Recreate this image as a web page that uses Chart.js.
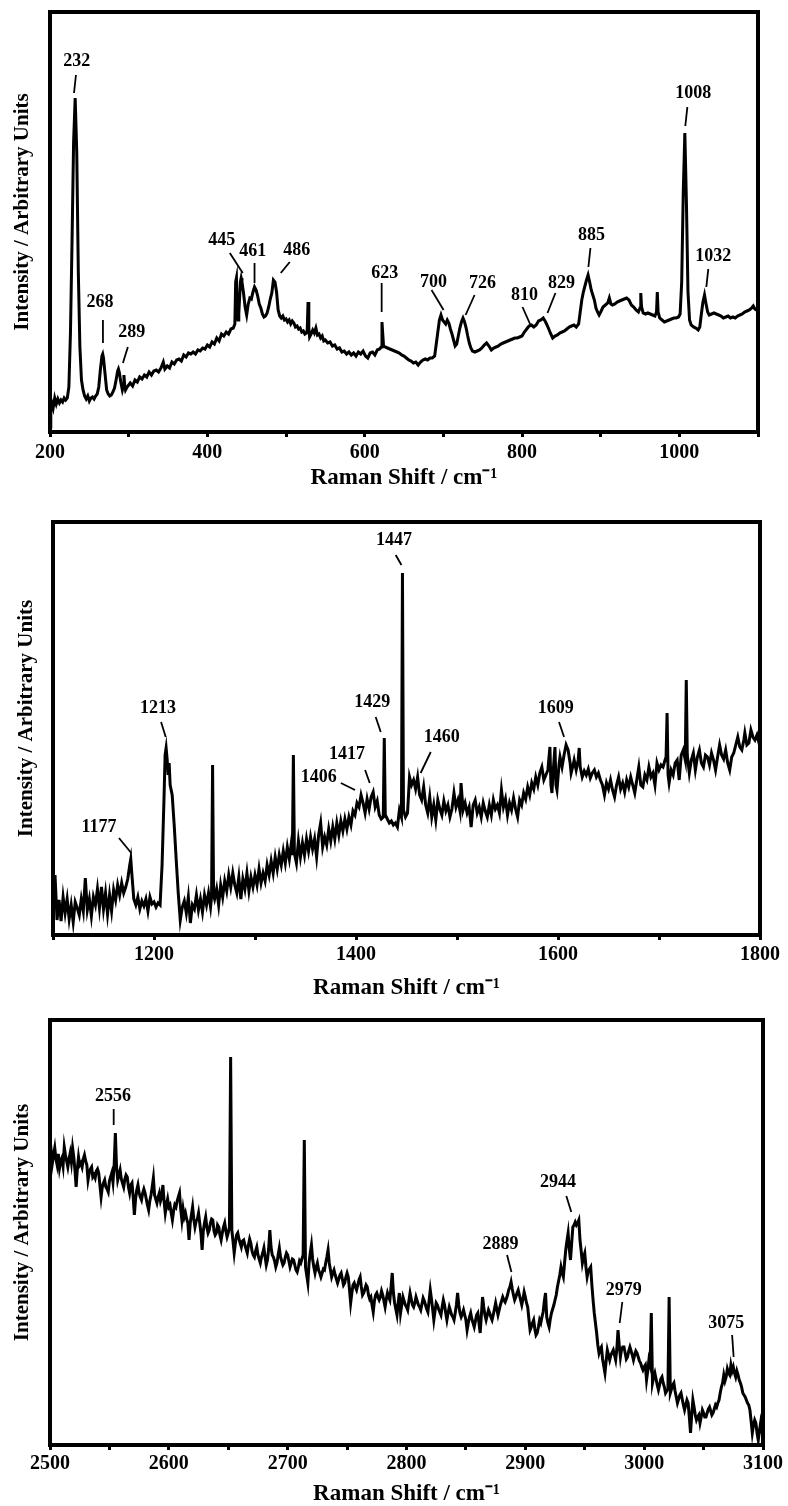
<!DOCTYPE html>
<html><head><meta charset="utf-8">
<script src="https://cdn.jsdelivr.net/npm/chart.js@4.4.1/dist/chart.umd.min.js"></script>
<style>
html,body{margin:0;padding:0;background:#fff;}
body{width:788px;height:1506px;position:relative;overflow:hidden;}
canvas{position:absolute;left:0;}
</style></head><body>
<canvas id="c1" width="788" height="500" style="top:0px"></canvas>
<canvas id="c2" width="788" height="505" style="top:500px"></canvas>
<canvas id="c3" width="788" height="501" style="top:1005px"></canvas>
<script>
// ---------- DATA (Raman shift cm-1, intensity arbitrary units) ----------
const spectrum1 = [[200,5],[201,22],[202,30],[204,24],[206,34],[208,28],[210,33],[212,29],[214,32],[216,30],[218,34],[220,32],[222,34],[224,45],[226,99],[228,190],[230,290],[232,334],[234,280],[236,160],[238,85],[240,52],[242,42],[244,36],[246,33],[248,36],[250,31],[252,34],[254,35],[256,33],[258,36],[260,38],[262,45],[264,62],[266,76],[267,78],[268,74],[270,58],[272,42],[274,38],[276,36],[278,37],[280,40],[282,44],[284,52],[286,61],[287,63],[288,60],[290,50],[292,42],[293,45],[294,57],[295,46],[296,42],[298,45],[300,47],[302,49],[305,46],[308,52],[311,50],[314,55],[317,53],[320,57],[323,55],[326,60],[329,57],[332,61],[335,62],[338,60],[341,64],[344,70],[346,63],[349,66],[352,64],[355,70],[358,68],[361,72],[364,73],[367,71],[370,77],[373,75],[376,79],[379,78],[382,80],[385,78],[388,82],[391,81],[394,84],[397,83],[400,87],[403,85],[406,90],[409,88],[412,94],[415,91],[418,98],[421,96],[424,100],[427,98],[430,103],[433,104],[435,108],[436,150],[437,154],[438,120],[439,112],[440,118],[442,150],[443,154],[444,150],[446,139],[448,125],[450,117],[452,128],[454,134],[456,133],[458,140],[460,145],[462,142],[464,136],[466,128],[468,124],[470,118],[472,115],[474,116],[476,119],[478,125],[480,133],[482,139],[484,152],[486,150],[488,140],[490,122],[492,116],[494,114],[496,116],[498,112],[500,113],[502,110],[504,112],[506,108],[508,111],[510,109],[512,105],[514,106],[516,103],[518,104],[520,100],[522,101],[524,98],[526,99],[527,102],[528,130],[529,104],[530,95],[532,98],[534,102],[536,99],[538,104],[540,97],[542,98],[544,94],[546,96],[548,91],[550,92],[553,89],[556,90],[559,86],[562,87],[565,83],[568,84],[571,80],[574,81],[577,78],[580,80],[583,77],[586,79],[589,76],[592,80],[595,78],[598,81],[601,76],[604,74],[607,79],[610,80],[613,77],[616,82],[619,83],[621,85],[622,110],[623,98],[624,86],[626,85],[629,84],[632,83],[635,82],[638,81],[641,80],[644,79],[647,77],[650,76],[653,74],[656,72],[659,71],[662,69],[665,70],[668,67],[671,70],[674,72],[677,73],[680,72],[683,74],[686,74],[689,76],[691,88],[693,100],[695,112],[697,117],[699,112],[701,110],[703,108],[705,112],[707,109],[709,103],[711,98],[713,92],[715,86],[717,88],[719,96],[721,104],[723,110],[725,114],[727,110],[729,104],[731,96],[733,89],[735,84],[737,81],[740,80],[743,81],[746,82],[749,84],[752,87],[755,89],[758,86],[761,82],[764,84],[767,85],[770,86],[773,88],[776,89],[779,90],[782,91],[785,92],[788,93],[791,94],[794,94],[797,95],[800,96],[803,100],[806,103],[809,106],[812,107],[815,105],[818,107],[821,111],[824,112],[827,114],[830,110],[833,105],[836,99],[839,94],[842,96],[845,97],[848,99],[851,100],[854,101],[857,103],[860,105],[863,106],[866,107],[869,105],[872,108],[874,120],[876,132],[878,140],[880,146],[882,152],[884,157],[886,150],[888,142],[890,137],[892,132],[894,124],[896,120],[898,117],[900,120],[903,125],[906,127],[909,129],[911,134],[913,128],[915,127],[918,128],[921,130],[924,131],[927,132],[930,133],[933,134],[936,132],[939,127],[942,125],[945,122],[948,120],[950,124],[951,139],[952,125],[954,119],[957,118],[960,119],[963,118],[966,117],[969,116],[971,120],[972,140],[973,120],[975,114],[978,112],[981,110],[984,111],[987,112],[990,113],[993,114],[996,114],[999,115],[1001,118],[1003,150],[1005,240],[1007,299],[1009,230],[1011,140],[1013,112],[1015,107],[1018,105],[1021,104],[1024,102],[1026,105],[1028,118],[1030,130],[1032,137],[1034,128],[1036,120],[1038,117],[1041,118],[1044,119],[1047,118],[1050,117],[1053,116],[1056,114],[1059,115],[1062,116],[1065,114],[1068,115],[1071,114],[1074,116],[1077,117],[1080,118],[1083,120],[1086,121],[1089,122],[1092,124],[1094,126],[1096,123],[1098,122],[1100,124]];

const spectrum2 = [[1100,40],[1101,30],[1102,60],[1104,15],[1106,35],[1108,14],[1110,38],[1112,22],[1114,36],[1116,16],[1118,30],[1120,13],[1122,33],[1124,27],[1126,20],[1128,36],[1130,24],[1132,57],[1134,25],[1136,36],[1138,19],[1140,38],[1142,30],[1144,46],[1146,27],[1148,48],[1150,26],[1152,42],[1154,21],[1156,40],[1158,24],[1160,45],[1162,35],[1164,50],[1166,40],[1168,52],[1170,42],[1172,48],[1174,56],[1176,70],[1177,76],[1178,62],[1180,36],[1182,30],[1184,38],[1186,26],[1188,34],[1190,29],[1192,36],[1194,24],[1196,38],[1198,31],[1200,33],[1202,28],[1204,32],[1206,30],[1208,70],[1210,140],[1211,180],[1212,187],[1213,176],[1214,160],[1215,172],[1216,150],[1218,140],[1220,110],[1222,75],[1224,42],[1226,15],[1228,28],[1230,34],[1232,22],[1234,38],[1236,12],[1238,30],[1240,26],[1242,40],[1244,25],[1246,36],[1248,23],[1250,40],[1252,30],[1254,42],[1256,28],[1257,38],[1258,170],[1259,40],[1260,36],[1262,46],[1264,30],[1266,50],[1268,38],[1270,54],[1272,44],[1274,60],[1276,48],[1278,62],[1280,50],[1282,42],[1284,58],[1286,36],[1288,56],[1290,46],[1292,62],[1294,44],[1296,58],[1298,48],[1300,60],[1302,50],[1304,66],[1306,52],[1308,62],[1310,54],[1312,70],[1314,60],[1316,74],[1318,62],[1320,78],[1322,66],[1324,80],[1326,70],[1328,84],[1330,72],[1332,88],[1334,76],[1336,92],[1337,80],[1338,180],[1339,82],[1341,72],[1343,94],[1345,78],[1347,92],[1349,80],[1351,96],[1353,84],[1355,98],[1357,86],[1359,96],[1361,78],[1363,100],[1365,112],[1367,88],[1369,98],[1371,90],[1373,106],[1375,94],[1377,108],[1379,96],[1381,112],[1383,100],[1385,114],[1387,104],[1389,116],[1391,106],[1393,118],[1395,110],[1397,124],[1399,120],[1401,132],[1403,128],[1405,140],[1407,132],[1409,122],[1411,136],[1413,126],[1415,138],[1417,143],[1419,128],[1421,134],[1423,120],[1425,116],[1427,118],[1428,197],[1429,120],[1431,116],[1433,112],[1435,114],[1437,110],[1439,112],[1441,108],[1443,125],[1445,118],[1446,362],[1447,125],[1449,118],[1451,122],[1453,158],[1455,150],[1457,155],[1459,146],[1461,158],[1463,140],[1465,135],[1467,148],[1469,130],[1471,122],[1473,138],[1475,118],[1477,130],[1479,115],[1481,135],[1483,126],[1485,120],[1487,134],[1489,124],[1491,130],[1493,118],[1495,126],[1497,142],[1499,128],[1501,135],[1503,124],[1504,152],[1506,125],[1508,132],[1510,122],[1512,128],[1514,108],[1516,130],[1518,135],[1520,122],[1522,128],[1524,118],[1526,132],[1528,124],[1530,118],[1532,130],[1534,120],[1536,135],[1538,126],[1540,130],[1542,122],[1544,145],[1546,128],[1548,136],[1550,120],[1552,132],[1554,125],[1556,137],[1558,126],[1560,118],[1562,135],[1564,130],[1566,142],[1568,136],[1570,148],[1572,140],[1574,152],[1576,146],[1578,158],[1580,150],[1582,162],[1584,168],[1586,155],[1588,160],[1590,165],[1592,188],[1593,150],[1594,142],[1595,160],[1597,188],[1598,150],[1599,145],[1601,170],[1602,178],[1604,168],[1606,180],[1608,190],[1610,185],[1612,172],[1613,162],[1615,170],[1616,175],[1618,165],[1620,175],[1621,187],[1622,168],[1624,158],[1626,164],[1628,160],[1630,166],[1632,157],[1634,162],[1636,165],[1638,158],[1640,162],[1642,155],[1644,150],[1646,140],[1648,152],[1650,146],[1652,155],[1654,145],[1656,138],[1658,150],[1660,158],[1662,146],[1664,152],[1666,143],[1668,155],[1670,148],[1672,158],[1674,150],[1676,142],[1678,155],[1680,168],[1682,150],[1684,148],[1686,160],[1688,155],[1690,168],[1692,158],[1694,162],[1696,150],[1698,172],[1700,165],[1702,170],[1704,168],[1706,175],[1707,178],[1708,222],[1709,160],[1710,152],[1712,165],[1714,160],[1716,172],[1718,175],[1720,155],[1722,180],[1724,185],[1726,175],[1727,255],[1728,180],[1730,162],[1732,175],[1734,182],[1736,165],[1738,178],[1740,185],[1742,172],[1744,168],[1746,180],[1748,178],[1750,170],[1752,182],[1754,175],[1756,165],[1758,178],[1760,190],[1762,180],[1764,176],[1766,185],[1768,172],[1770,165],[1772,178],[1774,182],[1776,190],[1778,198],[1780,188],[1782,185],[1784,195],[1785,202],[1787,190],[1789,192],[1791,205],[1793,198],[1795,195],[1797,200],[1799,192],[1800,195]];

const spectrum3 = [[2500,288],[2501,294],[2502,282],[2503,290],[2504,297],[2505,286],[2506,280],[2507,291],[2508,277],[2509,284],[2510,287],[2511,279],[2512,298],[2513,290],[2514,284],[2515,278],[2516,286],[2517,292],[2518,283],[2519,297],[2520,288],[2521,275],[2522,258],[2523,276],[2524,288],[2525,280],[2526,282],[2527,278],[2528,286],[2529,290],[2530,284],[2531,280],[2532,265],[2533,272],[2534,276],[2535,278],[2536,268],[2537,270],[2538,267],[2539,274],[2540,276],[2541,272],[2542,260],[2543,248],[2544,258],[2545,262],[2546,265],[2547,258],[2548,256],[2549,253],[2550,264],[2551,268],[2552,272],[2553,263],[2554,280],[2555,312],[2556,278],[2557,265],[2558,270],[2559,275],[2560,266],[2561,262],[2562,258],[2563,266],[2564,270],[2565,268],[2566,258],[2567,252],[2568,260],[2569,262],[2570,248],[2571,230],[2572,246],[2573,255],[2574,260],[2575,252],[2576,248],[2577,245],[2578,252],[2579,256],[2580,252],[2581,246],[2582,240],[2583,235],[2584,244],[2585,250],[2586,258],[2587,267],[2588,250],[2589,246],[2590,242],[2591,248],[2592,252],[2593,244],[2594,248],[2595,260],[2596,244],[2597,232],[2598,240],[2599,246],[2600,238],[2601,240],[2602,232],[2603,225],[2604,234],[2605,240],[2606,238],[2607,244],[2608,248],[2609,252],[2610,236],[2611,225],[2612,236],[2613,228],[2614,232],[2615,226],[2616,222],[2617,205],[2618,222],[2619,230],[2620,238],[2621,226],[2622,218],[2623,224],[2624,226],[2625,232],[2626,222],[2627,212],[2628,195],[2629,214],[2630,222],[2631,228],[2632,218],[2633,212],[2634,215],[2635,222],[2636,226],[2637,225],[2638,214],[2639,210],[2640,212],[2641,220],[2642,218],[2643,210],[2644,205],[2645,212],[2646,218],[2647,222],[2648,214],[2649,208],[2650,212],[2651,218],[2652,388],[2653,215],[2654,204],[2655,192],[2656,202],[2657,210],[2658,212],[2659,206],[2660,202],[2661,198],[2662,204],[2663,205],[2664,200],[2665,196],[2666,192],[2667,200],[2668,206],[2669,202],[2670,194],[2671,190],[2672,188],[2673,194],[2674,198],[2675,190],[2676,186],[2677,182],[2678,188],[2679,192],[2680,197],[2681,188],[2682,180],[2683,185],[2684,196],[2685,215],[2686,198],[2687,190],[2688,188],[2689,184],[2690,178],[2691,182],[2692,190],[2693,197],[2694,188],[2695,184],[2696,180],[2697,182],[2698,188],[2699,192],[2700,190],[2701,184],[2702,178],[2703,182],[2704,186],[2705,185],[2706,180],[2707,175],[2708,173],[2709,178],[2710,184],[2711,182],[2712,186],[2713,190],[2714,305],[2715,178],[2716,170],[2717,162],[2718,182],[2719,192],[2720,200],[2721,186],[2722,178],[2723,172],[2724,178],[2725,182],[2726,175],[2727,172],[2728,168],[2729,172],[2730,176],[2731,175],[2732,182],[2733,188],[2734,195],[2735,182],[2736,175],[2737,168],[2738,172],[2739,175],[2740,170],[2741,166],[2742,162],[2743,166],[2744,170],[2745,172],[2746,166],[2747,160],[2748,162],[2749,168],[2750,172],[2751,168],[2752,156],[2753,142],[2754,152],[2755,160],[2756,162],[2757,158],[2758,155],[2759,160],[2760,165],[2761,168],[2762,158],[2763,150],[2764,152],[2765,156],[2766,160],[2767,158],[2768,150],[2769,146],[2770,148],[2771,140],[2772,133],[2773,144],[2774,150],[2775,152],[2776,148],[2777,145],[2778,148],[2779,154],[2780,150],[2781,144],[2782,138],[2783,146],[2784,152],[2785,148],[2786,145],[2787,158],[2788,172],[2789,152],[2790,142],[2791,136],[2792,130],[2793,142],[2794,152],[2795,132],[2796,140],[2797,148],[2798,144],[2799,140],[2800,138],[2801,135],[2802,144],[2803,152],[2804,146],[2805,140],[2806,138],[2807,142],[2808,148],[2809,144],[2810,140],[2811,138],[2812,135],[2813,141],[2814,147],[2815,144],[2816,140],[2817,136],[2818,133],[2819,144],[2820,155],[2821,146],[2822,136],[2823,125],[2824,134],[2825,142],[2826,140],[2827,136],[2828,133],[2829,130],[2830,138],[2831,145],[2832,140],[2833,132],[2834,125],[2835,132],[2836,138],[2837,134],[2838,130],[2839,128],[2840,125],[2841,132],[2842,140],[2843,152],[2844,140],[2845,132],[2846,128],[2847,131],[2848,135],[2849,130],[2850,125],[2851,115],[2852,122],[2853,128],[2854,132],[2855,126],[2856,122],[2857,118],[2858,124],[2859,130],[2860,132],[2861,122],[2862,112],[2863,130],[2864,148],[2865,138],[2866,130],[2867,125],[2868,130],[2869,135],[2870,132],[2871,128],[2872,125],[2873,130],[2874,136],[2875,142],[2876,136],[2877,130],[2878,135],[2879,140],[2880,144],[2881,148],[2882,145],[2883,143],[2884,146],[2885,150],[2886,155],[2887,158],[2888,163],[2889,156],[2890,150],[2891,145],[2892,148],[2893,152],[2894,155],[2895,150],[2896,145],[2897,140],[2898,146],[2899,153],[2900,148],[2901,142],[2902,138],[2903,126],[2904,115],[2905,118],[2906,122],[2907,125],[2908,116],[2909,110],[2910,112],[2911,118],[2912,125],[2913,122],[2914,128],[2915,133],[2916,144],[2917,152],[2918,128],[2919,122],[2920,118],[2921,126],[2922,132],[2923,136],[2924,140],[2925,145],[2926,150],[2927,158],[2928,164],[2929,170],[2930,178],[2931,172],[2932,168],[2933,182],[2934,195],[2935,204],[2936,212],[2937,196],[2938,185],[2939,202],[2940,218],[2941,220],[2942,223],[2943,220],[2944,222],[2945,225],[2946,205],[2947,194],[2948,182],[2949,188],[2950,192],[2951,178],[2952,168],[2953,174],[2955,178],[2956,160],[2957,145],[2958,132],[2960,112],[2961,100],[2962,92],[2963,96],[2964,98],[2965,86],[2967,72],[2968,84],[2969,95],[2970,90],[2971,85],[2972,90],[2974,95],[2975,90],[2976,85],[2977,96],[2978,115],[2979,100],[2980,88],[2981,96],[2982,98],[2983,98],[2984,92],[2985,86],[2986,88],[2987,94],[2988,98],[2989,94],[2990,90],[2991,85],[2992,90],[2993,94],[2994,92],[2995,88],[2996,84],[2997,82],[2998,78],[2999,75],[3000,78],[3001,80],[3002,65],[3003,74],[3004,85],[3005,80],[3006,132],[3007,62],[3008,68],[3009,72],[3010,66],[3011,60],[3012,55],[3013,60],[3014,66],[3015,68],[3016,62],[3017,58],[3018,52],[3019,54],[3020,56],[3021,148],[3022,52],[3023,56],[3024,60],[3025,62],[3026,54],[3027,48],[3028,42],[3029,46],[3030,50],[3031,52],[3032,46],[3033,40],[3034,35],[3035,40],[3036,45],[3037,42],[3038,28],[3039,12],[3040,30],[3041,45],[3042,38],[3043,30],[3044,25],[3045,28],[3046,30],[3047,22],[3048,28],[3049,35],[3050,32],[3051,28],[3052,28],[3053,32],[3054,36],[3055,38],[3056,34],[3057,30],[3058,32],[3059,36],[3060,40],[3061,38],[3062,42],[3063,45],[3064,52],[3065,58],[3066,62],[3067,70],[3068,64],[3069,68],[3070,76],[3071,72],[3072,70],[3073,80],[3074,74],[3075,78],[3076,72],[3077,68],[3078,74],[3079,70],[3080,65],[3081,62],[3082,58],[3083,52],[3084,50],[3085,48],[3086,45],[3087,42],[3088,40],[3089,35],[3090,24],[3091,12],[3092,20],[3093,25],[3094,22],[3095,12],[3096,5],[3097,14],[3098,22],[3099,14],[3100,8]];

// Peak annotations: [label, labelX, labelY, lineX1, lineY1, lineX2, lineY2] in data units
const peaks1 = [["232",234,371,233,357,230.5,339],["268",263.5,130,267.3,112,267.3,89],["289",304,100,299,85,292.7,69],["445",418.4,192,428.6,179,445,159],["461",457.8,181,460,169,460,149],["486",513.7,182,504.8,170,493.3,159],["623",625.4,159,621.6,149,621.6,120],["700",687.6,150,685,142,700.3,122],["726",749.8,149,739.7,137,728.3,117],["810",803.2,137,800.6,125,810.8,107],["829",850.2,149,842.5,139,832.4,119],["885",888.3,197,887,184,884.4,165],["1008",1017.8,339,1010.2,325,1007.6,306],["1032",1043.2,176,1036.8,163,1034.3,145]];
const peaks2 = [["1177",1145.5,108,1165.3,97,1177.5,82],["1213",1204,227,1207,213,1211.6,198],["1406",1363,158,1385,152,1399,145],["1417",1391,181,1409,165,1413.6,152],["1429",1416,233,1419.5,218,1424.5,203],["1447",1437.6,395,1439.3,380,1445,370],["1460",1485,198,1474,183,1464,162],["1609",1597.7,227,1601,213,1606,198]];
const peaks3 = [["2556",2553,349,2553.6,336,2553.6,320],["2889",2879,201,2884.6,190,2888.3,173],["2944",2927.5,263,2934.5,249,2938.7,233],["2979",2982.8,155,2981.6,143,2979.4,122],["3075",3069,122,3074,110,3075.3,88]];

const xTitle = 'Raman Shift / cm\u207B\u00B9';
const yTitle = 'Intensity / Arbitrary Units';

// ---------- RENDERING ----------
const FONT = '"Liberation Serif", "Times New Roman", Times, serif';

const framePlugin = {
  id: 'frame',
  afterDraw(chart) {
    const {ctx, chartArea: a} = chart;
    ctx.save();
    ctx.strokeStyle = '#000';
    ctx.lineWidth = 4;
    ctx.strokeRect(a.left, a.top, a.right - a.left, a.bottom - a.top);
    ctx.restore();
  }
};

function yTitlePlugin(cx, shift) {
  return {
    id: 'ytitle',
    afterDraw(chart) {
      const ctx = chart.ctx, a = chart.chartArea;
      ctx.save();
      ctx.translate(cx, (a.top + a.bottom) / 2 + shift);
      ctx.rotate(-Math.PI / 2);
      ctx.font = 'bold 21px ' + FONT;
      ctx.fillStyle = '#000';
      ctx.textAlign = 'center';
      ctx.textBaseline = 'middle';
      ctx.fillText(yTitle, 0, 0);
      ctx.restore();
    }
  };
}

function peakPlugin(list) {
  return {
    id: 'peaks',
    afterDatasetsDraw(chart) {
      const xs = chart.scales.x, ys = chart.scales.y, ctx = chart.ctx;
      ctx.save();
      ctx.fillStyle = '#000';
      ctx.strokeStyle = '#000';
      ctx.lineWidth = 1.8;
      ctx.font = 'bold 18px ' + FONT;
      ctx.textAlign = 'center';
      ctx.textBaseline = 'middle';
      list.forEach(p => {
        ctx.fillText(p[0], xs.getPixelForValue(p[1]), ys.getPixelForValue(p[2]));
        ctx.beginPath();
        ctx.moveTo(xs.getPixelForValue(p[3]), ys.getPixelForValue(p[4]));
        ctx.lineTo(xs.getPixelForValue(p[5]), ys.getPixelForValue(p[6]));
        ctx.stroke();
      });
      ctx.restore();
    }
  };
}

function makeChart(id, spectrum, peaks, o) {
  return new Chart(document.getElementById(id), {
    type: 'line',
    data: {
      datasets: [{
        data: spectrum.map(p => ({x: p[0], y: p[1]})),
        borderColor: '#000',
        borderWidth: 3,
        pointRadius: 0,
        tension: 0,
        fill: false
      }]
    },
    options: {
      responsive: false,
      animation: false,
      devicePixelRatio: 1,
      layout: {padding: {left: 0, right: o.padRight, top: o.padTop, bottom: 0}},
      plugins: {legend: {display: false}, tooltip: {enabled: false}},
      scales: {
        x: {
          type: 'linear', min: o.xMin, max: o.xMax,
          ticks: {
            stepSize: o.step, autoSkip: false, maxRotation: 0, minRotation: 0,
            color: '#000', padding: o.tickPad,
            font: {family: FONT, size: 20, weight: 'bold'},
            callback: v => (v % o.labelStep === 0 ? String(v) : '')
          },
          grid: {display: true, drawOnChartArea: false, drawTicks: true, tickLength: 5, tickWidth: 3, color: '#000'},
          border: {display: false},
          title: {display: true, text: xTitle, color: '#000',
                  font: {family: FONT, size: 23, weight: 'bold', lineHeight: 1},
                  padding: {top: 0, bottom: o.titlePad}},
          afterFit: s => { s.height = o.xAxisH; }
        },
        y: {
          min: 0, max: o.yMax,
          ticks: {display: false},
          grid: {display: false},
          border: {display: false},
          title: {display: false},
          afterFit: s => { s.width = o.yAxisW; }
        }
      }
    },
    plugins: [framePlugin, peakPlugin(peaks), yTitlePlugin(o.yTitleX, -10)]
  });
}

makeChart('c1', spectrum1, peaks1, {xMin: 200, xMax: 1100, step: 100, labelStep: 200, yMax: 420,
  padTop: 12, padRight: 30, yAxisW: 50, xAxisH: 68, tickPad: 4, titlePad: 10, yTitleX: 23});
makeChart('c2', spectrum2, peaks2, {xMin: 1100, xMax: 1800, step: 100, labelStep: 200, yMax: 413,
  padTop: 22, padRight: 28, yAxisW: 53, xAxisH: 70, tickPad: 3, titlePad: 5, yTitleX: 27});
makeChart('c3', spectrum3, peaks3, {xMin: 2500, xMax: 3100, step: 50, labelStep: 100, yMax: 425,
  padTop: 15, padRight: 25, yAxisW: 50, xAxisH: 61, tickPad: 2, titlePad: 0, yTitleX: 23});
</script>
</body></html>
